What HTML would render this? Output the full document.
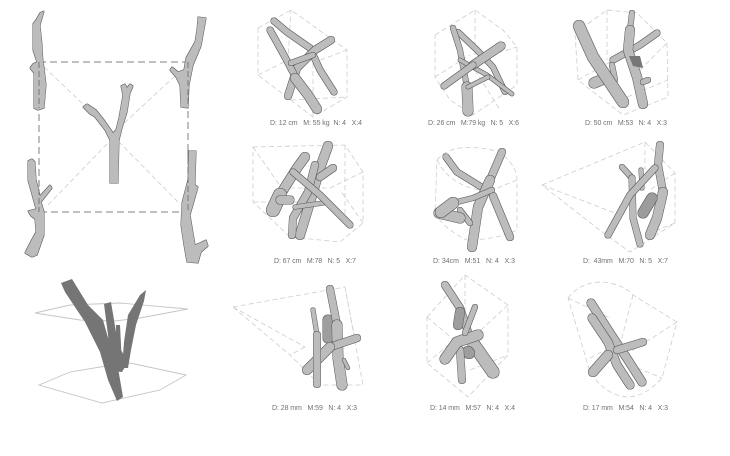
<!DOCTYPE html>
<html><head><meta charset="utf-8"><style>
html,body{margin:0;padding:0;background:#fff;width:730px;height:456px;overflow:hidden}
svg{display:block;filter:blur(.3px)}
.d{fill:none;stroke:#cdcdcd;stroke-width:.8;stroke-dasharray:5 3}
.k{fill:none;stroke:#808080;stroke-width:1;stroke-dasharray:7 4}
.b path{fill:none;stroke:#bcbcbc;stroke-linecap:round;stroke-linejoin:round;filter:url(#o)}
.b path.f{fill:#bcbcbc;stroke:none}
.n path{fill:#757575}
.p{fill:none;stroke:#c6c6c6;stroke-width:.9}
text{font:7px "Liberation Sans",sans-serif;fill:#707070}
</style></head><body>
<svg width="730" height="456" viewBox="0 0 730 456" xmlns="http://www.w3.org/2000/svg">
<defs><filter id="o" filterUnits="userSpaceOnUse" x="0" y="0" width="730" height="456">
<feMorphology in="SourceGraphic" operator="dilate" radius=".6" result="m"/>
<feFlood flood-color="#5a5a5a"/><feComposite in2="m" operator="in" result="e"/>
<feMerge><feMergeNode in="e"/><feMergeNode in="SourceGraphic"/></feMerge></filter></defs>

<!-- main frame -->
<path class="k" d="M39 62H188V212H39Z"/>
<path class="d" d="M44 67L84 105M175 76L122 125M48 205L108 143M178 202L120 143"/>
<g class="b">
<path class="f" d="M110 183L118 183L119 140L122 128L127 112L130 93L133 86L130 84L127 88L125 84L121 86L123 95L119 118L116 130L113 133L104 120L96 110L87 104L83 107L90 114L95 117L105 130L110 140Z"/>
<path class="f" d="M44 11L40 13L36 20L33 24L33 50L37 62L33 64L30 68L34 73L34 108L38 110L44 108L46 85L44 68L43 62L42 45L40 25Z"/>
<path class="f" d="M206 18L198 17L197 30L195 42L186 58L184 70L178 72L172 67L170 70L176 77L180 85L181 107L188 108L189 85L193 65L201 46Z"/>
<path class="f" d="M32 159L28 161L28 180L33 198L36 209L32 210L28 211L31 216L35 219L36 232L30 243L25 253L32 257L37 255L44 235L44 212L41 202L52 188L50 185L40 196L36 180L35 162Z"/>
<path class="f" d="M196 151L189 151L188 180L182 203L181 225L184 245L187 262L198 263L201 252L208 246L206 240L200 243L195 245L190 215L198 187L195 185Z"/>
</g>
<path d="M39 62V108M188 62V108M39 180V212M188 150V212" fill="none" stroke="#707070" stroke-width=".9" stroke-dasharray="6 3"/>

<!-- 3D dark -->
<path class="p" d="M35 313L70 305L120 303L188 309L140 318L115 321L80 320Z"/>
<path class="p" d="M39 385L70 372L100 367L130 363L186 375L160 390L102 403Z"/>
<g class="n">
<path d="M61 283L72 279L88 305L103 320L110 345L118 368L123 397L117 401L108 380L100 352L85 322L65 292Z"/>
<path d="M104 304L111 302L114 320L118 345L128 362L122 372L110 371L108 335Z"/>
<path d="M146 290L144 301L136 325L131 350L128 368L122 368L124 342L128 315L140 295Z"/>
<path d="M116 325L120 325L122 365L116 365Z"/>
</g>

<!-- cell 1 -->
<path class="d" d="M258 28L291 10L347 50V97L313 117L258 75ZM258 75L288 60L291 10M313 63L313 117M313 63L347 50M291 100L347 97"/>
<g class="b">
<path stroke-width="6" d="M274 21L287 32L310 48L320 70L334 92"/>
<path stroke-width="7" d="M331 40L315 50L297 68L288 96"/>
<path stroke-width="6" d="M270 30L285 57L297 80"/><path stroke-width="9" d="M295 78L308 95L317 109"/>
<path stroke-width="5" d="M291 63L313 55"/>
</g>

<!-- cell 2 -->
<path class="d" d="M435 35L475 10L503 30L517 47V85L473 115L450 100L435 77ZM475 10L475 60M435 77L470 55M475 60L517 47M475 70L500 110"/>
<g class="b">
<path stroke-width="5" d="M458 32L477 50L493 67L505 92"/>
<path stroke-width="5" d="M453 28L460 50L467 87"/><path stroke-width="10" d="M467 87L468 111"/>
<path stroke-width="3.5" d="M512 94L487 75L460 60"/><path stroke-width="3.5" d="M468 87L488 77"/>
<path stroke-width="8" d="M501 46L473 65"/><path stroke-width="6" d="M473 65L444 86"/>
</g>

<!-- cell 3 -->
<path class="d" d="M575 33L607 10L637 13L667 43L668 97L623 115L578 80ZM607 10V60M578 80L610 62M640 70L667 43M620 100L668 80"/>
<g class="b">
<path stroke-width="6" d="M657 33L640 45L613 60"/>
<path stroke-width="10" d="M594 83L608 77"/>
<path stroke-width="5" d="M612 65L615 80"/>
<path stroke-width="11" d="M579 26L593 57L623 102"/>
<path stroke-width="5" d="M632 13L630 30"/><path stroke-width="9" d="M630 30L628 50L637 77L643 104"/>
<path stroke-width="5" d="M643 82L648 80"/>
</g>
<path d="M629 56L640 56L643 68L633 66Z" fill="#777"/>

<!-- cell 4 -->
<path class="d" d="M253 147L345 145L363 172V223L340 242L290 237L253 202ZM253 147L290 200M345 145V220M253 202H310M363 172L330 188H290M363 223L340 190"/>
<g class="b">
<path stroke-width="9" d="M328 146L320 168L310 202L300 235"/>
<path stroke-width="7" d="M333 168L320 177"/>
<path stroke-width="7" d="M315 165L308 192L293 218L292 235"/>
<path stroke-width="9" d="M305 157L297 168L280 195"/><path stroke-width="13" d="M280 195L273 210"/>
<path stroke-width="8" d="M290 200L280 200"/>
<path stroke-width="4" d="M295 207L323 203"/>
<path stroke-width="6" d="M293 172L320 195L350 225"/>
</g>

<!-- cell 5 -->
<path class="d" d="M437 160Q445 150 460 148Q485 146 500 153Q517 165 517 180V230Q495 240 467 240Q445 230 435 213ZM437 160Q450 185 480 190M517 180L480 195"/>
<g class="b">
<path stroke-width="6" d="M446 157L457 172L483 188"/>
<path stroke-width="7" d="M493 196L510 237"/>
<path stroke-width="7" d="M502 152L490 180"/><path stroke-width="9" d="M490 180L478 207L472 247"/>
<path stroke-width="5" d="M460 210L470 223"/>
<path stroke-width="10" d="M439 213L460 218"/>
<path stroke-width="5" d="M492 190L473 198L453 203"/><path stroke-width="11" d="M453 203L441 212"/>
</g>

<!-- cell 6 -->
<path class="d" d="M542 185L645 142L675 173V223L630 252L597 228ZM645 142V170M542 185L620 215M675 173L650 190M675 223L645 235"/>
<g class="b">
<path stroke-width="7" d="M660 145L658 165L663 192"/><path stroke-width="9" d="M663 192L657 218L650 235"/>
<path stroke-width="4" d="M641 170L642 188"/>
<path stroke-width="5" d="M622 167L632 178"/>
<path stroke-width="10" style="stroke:#9c9c9c" d="M652 198L643 213"/>
<path stroke-width="6" d="M632 178L633 218L640 244"/>
<path stroke-width="6" d="M655 168L630 195L608 235"/>
</g>

<!-- cell 7 -->
<path class="d" d="M233 307L345 287L363 385H320L290 355ZM233 307L305 347M305 347L290 355M345 287L355 340"/>
<g class="b">
<path stroke-width="10" style="stroke:#9e9e9e" d="M328 320L328 338"/>
<path stroke-width="7" d="M330 289L337 325"/><path stroke-width="10" d="M337 325L338 358L342 385"/>
<path stroke-width="3" d="M344 360L348 368"/>
<path stroke-width="7" d="M357 338L330 347"/><path stroke-width="9" d="M330 347L307 370"/>
<path stroke-width="4" d="M313 310L317 335"/><path stroke-width="7" d="M317 335L317 384"/>
</g>

<!-- cell 8 -->
<path class="d" d="M427 317L465 275L508 305V355L468 397L427 363ZM465 275V320M427 317L460 345M508 305L470 340M427 363L460 335M470 370L508 355"/>
<g class="b">
<path stroke-width="7" d="M445 285L460 308L468 332"/><path stroke-width="12" d="M474 345L493 372"/>
<path stroke-width="9" style="stroke:#9e9e9e" d="M460 312L458 325"/>
<path stroke-width="11" style="stroke:#9e9e9e" d="M468 352L469 353"/>
<path stroke-width="7" d="M460 350L462 380"/>
<path stroke-width="10" d="M478 335L457 342L445 359"/>
<path stroke-width="5" d="M475 307L465 333"/>
</g>

<!-- cell 9 -->
<path class="d" d="M568 298Q580 282 603 282Q625 285 633 295L677 322L662 378Q645 397 627 397Q605 395 590 372ZM568 298L610 318M633 295L620 345M677 322L630 352M590 358L615 345M630 365L662 378"/>
<g class="b">
<path stroke-width="8" d="M591 303L610 333L628 360L642 382"/>
<path stroke-width="8" d="M592 318L608 342L617 365L630 385"/>
<path stroke-width="9" d="M608 355L593 372"/>
<path stroke-width="7" d="M643 342L617 350"/>
</g>

<text x="270" y="125" textLength="92" lengthAdjust="spacing" xml:space="preserve">D: 12 cm   M: 55 kg  N: 4   X:4</text>
<text x="428" y="125" textLength="91" lengthAdjust="spacing" xml:space="preserve">D: 26 cm   M:79 kg   N: 5   X:6</text>
<text x="585" y="125" textLength="82" lengthAdjust="spacing" xml:space="preserve">D: 50 cm   M:53   N: 4   X:3</text>
<text x="274" y="263" textLength="82" lengthAdjust="spacing" xml:space="preserve">D: 67 cm   M:78   N: 5   X:7</text>
<text x="433" y="263" textLength="82" lengthAdjust="spacing" xml:space="preserve">D: 34cm   M:51   N: 4   X:3</text>
<text x="583" y="263" textLength="85" lengthAdjust="spacing" xml:space="preserve">D:  43mm   M:70   N: 5   X:7</text>
<text x="272" y="410" textLength="85" lengthAdjust="spacing" xml:space="preserve">D: 28 mm   M:59   N: 4   X:3</text>
<text x="430" y="410" textLength="85" lengthAdjust="spacing" xml:space="preserve">D: 14 mm   M:57   N: 4   X:4</text>
<text x="583" y="410" textLength="85" lengthAdjust="spacing" xml:space="preserve">D: 17 mm   M:54   N: 4   X:3</text>
</svg>
</body></html>
